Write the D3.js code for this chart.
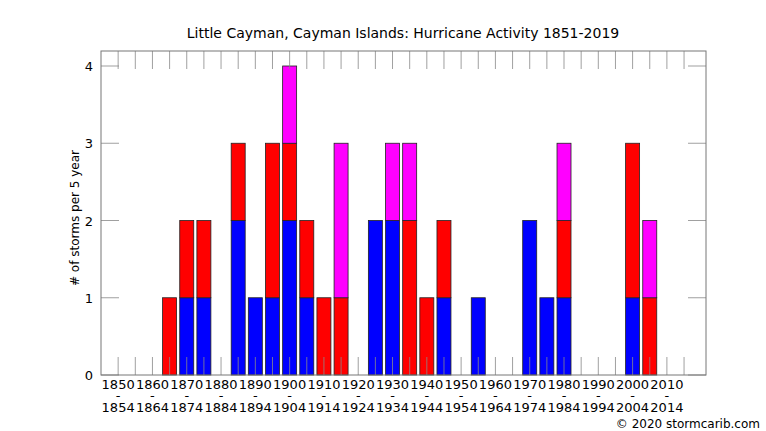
<!DOCTYPE html>
<html><head><meta charset="utf-8">
<script src="https://cdn.jsdelivr.net/npm/d3@7"></script>
<style>body{margin:0;background:#fff}text{font-family:"DejaVu Sans",sans-serif}</style>
</head><body><svg id="chart" width="766" height="431"></svg>
<script>
// 5-year bins starting 1850
const startYears = d3.range(1850, 2020, 5);
const blue =    [0,0,0,0,1,1,0,2,1,1,2,1,0,0,0,2,2,0,0,1,0,1,0,0,2,1,1,0,0,0,1,0,0,0];
const red =     [0,0,0,1,1,1,0,1,0,2,1,1,1,1,0,0,0,2,1,1,0,0,0,0,0,0,1,0,0,0,2,1,0,0];
const magenta = [0,0,0,0,0,0,0,0,0,0,1,0,0,2,0,0,1,1,0,0,0,0,0,0,0,0,1,0,0,0,0,1,0,0];
const yTicks = [0, 1, 2, 3, 4];

const svg = d3.select('#chart');
const pL = 101, pR = 706, pT = 51, pB = 375;
const x = d3.scaleLinear().domain([-1, 34.28]).range([pL, pR]);
const y = d3.scaleLinear().domain([0, 4]).range([pB, 66]);
const barW = 14;

svg.append('text').attr('x', 403).attr('y', 38).attr('text-anchor', 'middle')
  .attr('font-size', 14).text('Little Cayman, Cayman Islands: Hurricane Activity 1851-2019');

// bars, stacked blue / red / magenta
startYears.forEach((yr, i) => {
  const parts = [[blue[i], '#0000ff'], [red[i], '#ff0000'], [magenta[i], '#ff00ff']];
  let base = 0;
  parts.forEach(([v, c]) => {
    if (!v) return;
    svg.append('rect').attr('x', x(i) - barW / 2).attr('y', y(base + v))
      .attr('width', barW).attr('height', y(base) - y(base + v))
      .attr('fill', c).attr('stroke', '#222').attr('stroke-width', 0.8);
    base += v;
  });
});

// ticks on top of the bars
const tg = svg.append('g').attr('stroke', '#888').attr('stroke-opacity', 0.8).attr('stroke-width', 1);
startYears.forEach((yr, i) => {
  tg.append('line').attr('x1', x(i)).attr('x2', x(i)).attr('y1', pT).attr('y2', pT + 18);
  tg.append('line').attr('x1', x(i)).attr('x2', x(i)).attr('y1', pB).attr('y2', pB - 18);
});
yTicks.forEach(t => {
  tg.append('line').attr('x1', pL).attr('x2', pL + 18).attr('y1', y(t)).attr('y2', y(t));
  tg.append('line').attr('x1', pR).attr('x2', pR - 18).attr('y1', y(t)).attr('y2', y(t));
});

svg.append('rect').attr('x', pL).attr('y', pT).attr('width', pR - pL).attr('height', pB - pT)
  .attr('fill', 'none').attr('stroke', '#777');

// y labels
yTicks.forEach(t => {
  svg.append('text').attr('x', pL - 8).attr('y', y(t) + 5).attr('text-anchor', 'end')
    .attr('font-size', 13).text(t);
});
svg.append('text').attr('transform', `translate(79,${(pT + pB) / 2 + 5}) rotate(-90)`)
  .attr('text-anchor', 'middle').attr('font-size', 12).text('# of storms per 5 year');

// x labels every 10 years
startYears.forEach((yr, i) => {
  if (yr % 10) return;
  const g = svg.append('g').attr('text-anchor', 'middle').attr('font-size', 13);
  g.append('text').attr('x', x(i)).attr('y', 389).text(yr);
  g.append('text').attr('x', x(i)).attr('y', 400).text('-');
  g.append('text').attr('x', x(i)).attr('y', 412).text(yr + 4);
});

svg.append('text').attr('x', 760).attr('y', 428).attr('text-anchor', 'end')
  .attr('font-size', 12).attr('font-family', 'DejaVu Sans Mono').text('© 2020 stormcarib.com');
</script></body></html>
